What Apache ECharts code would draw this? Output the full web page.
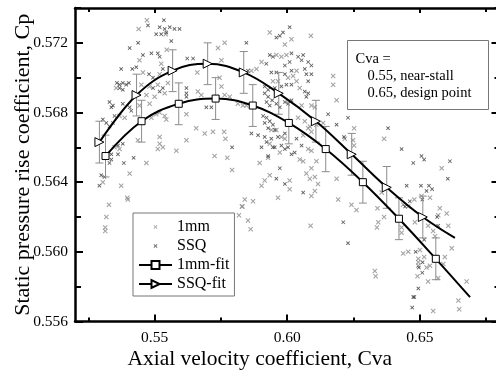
<!DOCTYPE html>
<html><head><meta charset="utf-8">
<script src="https://cdn.jsdelivr.net/npm/echarts@6/dist/echarts.min.js"></script>
<style>html,body{margin:0;padding:0;background:#fff}#c{width:496px;height:374px}</style>
</head><body><div id="c"></div>
<script>
// ---- tick values ----
const xMajor = [0.55, 0.60, 0.65];
const xMinor = [0.525, 0.575, 0.625, 0.675];
const yMajor = [0.556, 0.560, 0.564, 0.568, 0.572];
const yMinor = [0.558, 0.562, 0.566, 0.570, 0.574];

// ---- fitted curves (marker points, last point = curve end) ----
const fit1mmX = [0.5315,0.5451,0.5591,0.5730,0.5870,0.6006,0.6145,0.6285,0.6421,0.6560,0.6689];
const fit1mmY = [0.5655,0.5675,0.5685,0.5688,0.5684,0.5674,0.5659,0.5640,0.5619,0.5596,0.5574];
const err1mm  = [0.0012,0.0012,0.0012,0.0012,0.0012,0.0012,0.0013,0.0012,0.0012,0.0012];
const fitSSQX = [0.5292,0.5432,0.5568,0.5700,0.5836,0.5968,0.6108,0.6243,0.6375,0.6511,0.6632];
const fitSSQY = [0.5663,0.5690,0.5704,0.5708,0.5703,0.5691,0.5675,0.5656,0.5637,0.5620,0.5608];
const errSSQ  = [0.0012,0.0012,0.0012,0.0012,0.0012,0.0012,0.0012,0.0012,0.0012,0.0012];

// ---- raw samples ----
const mm1 = [
[0.5471,0.5733],[0.5440,0.5728],[0.5542,0.5725],[0.5546,0.5716],[0.5443,0.5710],[0.5525,0.5708],
[0.5456,0.5703],[0.5519,0.5702],[0.5355,0.5694],[0.5450,0.5696],[0.5481,0.5695],[0.5512,0.5696],
[0.5550,0.5697],[0.5469,0.5690],[0.5500,0.5689],[0.5538,0.5691],[0.5443,0.5684],[0.5481,0.5685],
[0.5368,0.5678],[0.5387,0.5677],[0.5437,0.5664],[0.5488,0.5677],[0.5506,0.5679],[0.5519,0.5680],
[0.5538,0.5678],[0.5544,0.5676],[0.5519,0.5666],[0.5519,0.5662],[0.5531,0.5660],[0.5512,0.5659],
[0.5582,0.5658],[0.5349,0.5660],[0.5368,0.5659],[0.5469,0.5651],[0.5406,0.5645],[0.5305,0.5640],
[0.5374,0.5638],[0.5399,0.5630],[0.5328,0.5627],[0.5397,0.5631],[0.5318,0.5620],[0.5314,0.5614],
[0.5314,0.5612],[0.5818,0.5621],[0.5831,0.5626],[0.5840,0.5630],[0.5852,0.5618],
[0.5934,0.5726],[0.5991,0.5719],[0.6016,0.5722],[0.5764,0.5720],[0.5739,0.5717],[0.5959,0.5713],
[0.5978,0.5712],[0.5997,0.5713],[0.5903,0.5709],[0.5865,0.5704],[0.5884,0.5705],[0.5752,0.5710],
[0.5661,0.5703],[0.5745,0.5700],[0.5752,0.5695],[0.5946,0.5698],[0.5965,0.5698],[0.6003,0.5700],
[0.6022,0.5701],[0.5663,0.5692],[0.5676,0.5690],[0.5764,0.5690],[0.5783,0.5689],[0.5814,0.5685],
[0.5833,0.5684],[0.5846,0.5684],
[0.5620,0.5679],[0.5657,0.5671],[0.5689,0.5668],[0.5720,0.5669],[0.5762,0.5669],[0.5767,0.5665],
[0.5620,0.5664],[0.5726,0.5655],[0.5774,0.5654],[0.5792,0.5647],[0.5940,0.5670],[0.5959,0.5670],
[0.5978,0.5666],[0.5991,0.5665],[0.5934,0.5662],[0.5972,0.5657],[0.5896,0.5651],[0.5928,0.5654],
[0.5934,0.5644],[0.5915,0.5641],[0.5903,0.5638],[0.6009,0.5641],[0.5965,0.5631],[0.6009,0.5636],
[0.5871,0.5629],[0.5829,0.5626],
[0.6089,0.5724],[0.6035,0.5704],[0.6035,0.5698],[0.6047,0.5694],[0.6091,0.5684],[0.6104,0.5683],
[0.6054,0.5684],[0.6173,0.5701],[0.6173,0.5696],[0.6186,0.5687],[0.6041,0.5677],[0.6066,0.5675],
[0.6085,0.5672],[0.6110,0.5673],[0.6135,0.5674],
[0.6365,0.5665],[0.6582,0.5648],[0.6479,0.5630],[0.6506,0.5632],[0.6538,0.5631],[0.6575,0.5625],
[0.6601,0.5622],[0.6569,0.5621],[0.6252,0.5671],[0.6217,0.5665],[0.6248,0.5664],[0.6252,0.5661],
[0.6060,0.5667],[0.6079,0.5671],[0.6091,0.5669],[0.6079,0.5659],[0.6091,0.5658],[0.6047,0.5653],
[0.6060,0.5652],[0.6110,0.5652],[0.6091,0.5648],[0.6072,0.5645],[0.6085,0.5642],[0.6104,0.5643],
[0.6116,0.5639],[0.6186,0.5642],[0.6091,0.5632],[0.6104,0.5635],[0.6192,0.5630],[0.6242,0.5627],
[0.6261,0.5624],[0.6356,0.5634],[0.6340,0.5625],[0.6437,0.5627],[0.6456,0.5626],[0.6365,0.5620],
[0.5862,0.5613],[0.6088,0.5615],[0.6343,0.5617],[0.6338,0.5614],[0.6330,0.5589],[0.6333,0.5586],
[0.6431,0.5614],[0.6431,0.5611],[0.6481,0.5617],[0.6531,0.5615],[0.6550,0.5612],[0.6557,0.5609],
[0.6607,0.5615],[0.6620,0.5602],[0.6437,0.5599],[0.6456,0.5600],[0.6500,0.5601],[0.6516,0.5597],
[0.6494,0.5596],[0.6494,0.5594],[0.6494,0.5592],[0.6525,0.5591],[0.6538,0.5592],[0.6491,0.5586],
[0.6531,0.5583],[0.6550,0.5566],[0.6588,0.5593],[0.6594,0.5597],[0.6569,0.5585],[0.6676,0.5583],
[0.6645,0.5572],[0.6648,0.5567]
];
const ssq = [
[0.5535,0.5733],[0.5475,0.5730],[0.5519,0.5729],[0.5538,0.5728],[0.5557,0.5729],[0.5575,0.5728],
[0.5594,0.5728],[0.5506,0.5725],[0.5525,0.5725],[0.5544,0.5726],[0.5563,0.5721],[0.5438,0.5720],
[0.5406,0.5717],[0.5488,0.5714],[0.5512,0.5714],[0.5519,0.5712],[0.5456,0.5713],[0.5374,0.5705],
[0.5416,0.5705],[0.5431,0.5706],[0.5531,0.5705],[0.5479,0.5702],[0.5494,0.5700],[0.5358,0.5697],
[0.5368,0.5696],[0.5380,0.5697],[0.5393,0.5696],[0.5403,0.5697],[0.5368,0.5694],[0.5380,0.5693],
[0.5494,0.5694],[0.5519,0.5692],[0.5531,0.5694],[0.5330,0.5686],[0.5343,0.5684],[0.5380,0.5685],
[0.5337,0.5683],[0.5349,0.5678],[0.5343,0.5674],[0.5330,0.5672],[0.5305,0.5676],[0.5318,0.5674],
[0.5406,0.5683],[0.5412,0.5681],[0.5362,0.5661],[0.5380,0.5662],[0.5337,0.5656],[0.5337,0.5653],
[0.5330,0.5651],[0.5362,0.5656],[0.5384,0.5651],[0.5421,0.5654],[0.5299,0.5644],[0.5311,0.5643],
[0.5292,0.5638],
[0.5846,0.5720],[0.5984,0.5726],[0.6009,0.5729],[0.5959,0.5723],[0.5972,0.5724],[0.5934,0.5713],
[0.5946,0.5712],[0.6016,0.5714],[0.5921,0.5708],[0.5991,0.5707],[0.6009,0.5709],[0.5623,0.5711],
[0.5645,0.5711],[0.5852,0.5704],[0.5940,0.5703],[0.5959,0.5703],[0.5991,0.5702],[0.6016,0.5704],
[0.5915,0.5695],[0.5928,0.5693],[0.5953,0.5694],[0.5978,0.5695],[0.5997,0.5696],[0.6016,0.5696],
[0.5620,0.5694],[0.5620,0.5691],[0.5620,0.5689],[0.5915,0.5691],[0.5928,0.5689],[0.5943,0.5687],
[0.5922,0.5686],[0.5934,0.5684],[0.5959,0.5685],[0.5972,0.5683],[0.5991,0.5686],[0.6003,0.5685],
[0.6016,0.5687],[0.5695,0.5683],[0.5714,0.5683],
[0.5909,0.5678],[0.5922,0.5677],[0.5915,0.5674],[0.5928,0.5671],[0.5946,0.5673],[0.5953,0.5670],
[0.5934,0.5675],[0.5865,0.5668],[0.5890,0.5667],[0.5915,0.5666],[0.5940,0.5665],[0.5965,0.5666],
[0.5991,0.5668],[0.5978,0.5661],[0.5991,0.5659],[0.5953,0.5660],[0.5922,0.5663],[0.5903,0.5660],
[0.5928,0.5655],[0.5946,0.5660],[0.6003,0.5660],[0.6016,0.5656],[0.6028,0.5657],[0.5792,0.5660],
[0.5972,0.5648],[0.5959,0.5642],[0.5991,0.5639],
[0.6041,0.5712],[0.6060,0.5713],[0.6054,0.5710],[0.6079,0.5709],[0.6091,0.5707],[0.6066,0.5705],
[0.6072,0.5702],[0.6091,0.5702],[0.6079,0.5698],[0.6066,0.5692],[0.6079,0.5691],[0.6072,0.5689],
[0.6154,0.5679],[0.6186,0.5673],[0.6229,0.5677],
[0.6380,0.5671],[0.6431,0.5659],[0.6506,0.5655],[0.6516,0.5653],[0.6475,0.5651],[0.6613,0.5652],
[0.6605,0.5642],[0.6450,0.5638],[0.6504,0.5638],[0.6525,0.5635],[0.6534,0.5638],[0.6546,0.5636],
[0.6509,0.5630],[0.6214,0.5666],[0.6035,0.5665],[0.6054,0.5661],[0.6060,0.5634],
[0.6211,0.5617],[0.6229,0.5605],[0.6444,0.5626],[0.6462,0.5629],[0.6516,0.5607],[0.6569,0.5615],
[0.6565,0.5620],[0.6484,0.5600],[0.6496,0.5591],[0.6510,0.5594],[0.6509,0.5588],[0.6494,0.5579],
[0.6475,0.5574],[0.6479,0.5574],[0.6471,0.5568]
];

const FONT = '"Liberation Serif","Times New Roman",serif';
const X_PATH = 'path://M0,1.5L1.5,0L5,3.5L8.5,0L10,1.5L6.5,5L10,8.5L8.5,10L5,6.5L1.5,10L0,8.5L3.5,5Z';
const X_ICON = 'path://M-8,-8L-8,-8M18,18L18,18M0,1.5L1.5,0L5,3.5L8.5,0L10,1.5L6.5,5L10,8.5L8.5,10L5,6.5L1.5,10L0,8.5L3.5,5Z';

function fitData(xs, ys) {
  return xs.map((x, i) => i === xs.length - 1 ? {value: [x, ys[i]], symbol: 'none'} : [x, ys[i]]);
}
function errData(xs, ys, es) {
  return es.map((e, i) => [xs[i], ys[i] - e, ys[i] + e]);
}
function renderErr(params, api) {
  const x = api.value(0);
  const t = api.coord([x, api.value(2)]);
  const b = api.coord([x, api.value(1)]);
  const w = 4;
  const st = {stroke: '#8c8c8c', lineWidth: 1};
  return {type: 'group', children: [
    {type: 'line', shape: {x1: t[0], y1: t[1], x2: b[0], y2: b[1]}, style: st},
    {type: 'line', shape: {x1: t[0] - w, y1: t[1], x2: t[0] + w, y2: t[1]}, style: st},
    {type: 'line', shape: {x1: b[0] - w, y1: b[1], x2: b[0] + w, y2: b[1]}, style: st}
  ]};
}

const xc = {type: 'value', min: 0.52, max: 0.68, gridIndex: 0, splitLine: {show: false}};
const yc = {type: 'value', min: 0.556, max: 0.574, gridIndex: 0, splitLine: {show: false}};
const lineS = {show: true, onZero: false, lineStyle: {color: '#000', width: 2.5}};
const tk = (len, vals) => ({show: true, inside: true, length: len, lineStyle: {color: '#000', width: 2}, customValues: vals});

const chart = echarts.init(document.getElementById('c'), null, {renderer: 'canvas'});
chart.setOption({
  animation: false,
  backgroundColor: '#fff',
  grid: {left: 75, top: 8, width: 424.5, height: 313.5, containLabel: false, outerBoundsMode: 'none'},
  xAxis: [
    Object.assign({}, xc, {position: 'bottom', axisLine: lineS, axisTick: tk(7, xMajor),
      axisLabel: {customValues: xMajor, formatter: v => v.toFixed(2), fontFamily: FONT, fontSize: 15.5, color: '#000', margin: 8},
      name: 'Axial velocity coefficient, Cva', nameLocation: 'middle', nameGap: 27, nameMoveOverlap: false,
      nameTextStyle: {fontFamily: FONT, fontSize: 21.5, color: '#000', padding: [0, 55, 0, 0]}}),
    Object.assign({}, xc, {position: 'bottom', axisLine: {show: false}, axisTick: tk(4, xMinor), axisLabel: {show: false}}),
    Object.assign({}, xc, {position: 'top', axisLine: lineS, axisTick: tk(5, xMajor), axisLabel: {show: false}}),
    Object.assign({}, xc, {position: 'top', axisLine: {show: false}, axisTick: tk(4, xMinor), axisLabel: {show: false}})
  ],
  yAxis: [
    Object.assign({}, yc, {position: 'left', axisLine: lineS, axisTick: tk(8, yMajor),
      axisLabel: {customValues: yMajor, formatter: v => v.toFixed(3), fontFamily: FONT, fontSize: 15.5, color: '#000', margin: 7},
      name: 'Static pressure rise coefficient, Cp', nameLocation: 'middle', nameGap: 41, nameRotate: 90, nameMoveOverlap: false,
      nameTextStyle: {fontFamily: FONT, fontSize: 22, color: '#000'}}),
    Object.assign({}, yc, {position: 'left', axisLine: {show: false}, axisTick: tk(6, yMinor), axisLabel: {show: false}}),
    Object.assign({}, yc, {position: 'right', axisLine: lineS, axisTick: tk(8, yMajor), axisLabel: {show: false}}),
    Object.assign({}, yc, {position: 'right', axisLine: {show: false}, axisTick: tk(5, yMinor), axisLabel: {show: false}})
  ],
  legend: {
    orient: 'vertical', left: 133, top: 213, itemWidth: 33, itemHeight: 10, itemGap: 3,
    padding: [6, 5, 4, 5], borderColor: '#777', borderWidth: 1, backgroundColor: '#fff', borderRadius: 0,
    selectedMode: false,
    textStyle: {fontFamily: FONT, fontSize: 16, color: '#000'},
    data: [
      {name: '1mm', icon: X_ICON, itemStyle: {color: '#8c8c8c'}},
      {name: 'SSQ', icon: X_ICON, itemStyle: {color: '#333'}},
      '1mm-fit', 'SSQ-fit'
    ]
  },
  graphic: [
    {type: 'group', left: 347, top: 40, z: 100, children: [
      {type: 'rect', shape: {x: 0, y: 0, width: 141, height: 69}, style: {fill: '#fff', stroke: '#777', lineWidth: 1}},
      {type: 'text', x: 8, y: 19, style: {text: 'Cva =', font: '14.5px ' + FONT, fill: '#000', textVerticalAlign: 'middle'}},
      {type: 'text', x: 20, y: 36, style: {text: '0.55, near-stall', font: '14.5px ' + FONT, fill: '#000', textVerticalAlign: 'middle'}},
      {type: 'text', x: 20, y: 53, style: {text: '0.65, design point', font: '14.5px ' + FONT, fill: '#000', textVerticalAlign: 'middle'}}
    ]}
  ],
  series: [
    {name: '1mm', type: 'scatter', data: mm1, symbol: X_PATH, symbolSize: 5, itemStyle: {color: '#8c8c8c'}, z: 2},
    {name: 'SSQ', type: 'scatter', data: ssq, symbol: X_PATH, symbolSize: 4, itemStyle: {color: '#333'}, z: 2},
    {name: 'err1mm', type: 'custom', renderItem: renderErr, data: errData(fit1mmX, fit1mmY, err1mm), encode: {x: 0, y: [1, 2]}, z: 3, silent: true},
    {name: 'errSSQ', type: 'custom', renderItem: renderErr, data: errData(fitSSQX, fitSSQY, errSSQ), encode: {x: 0, y: [1, 2]}, z: 3, silent: true},
    {name: '1mm-fit', type: 'line', data: fitData(fit1mmX, fit1mmY), smooth: 0.4, symbol: 'rect', symbolSize: 7,
      showAllSymbol: true, lineStyle: {color: '#000', width: 2}, itemStyle: {color: '#fff', borderColor: '#000', borderWidth: 1}, z: 5},
    {name: 'SSQ-fit', type: 'line', data: fitData(fitSSQX, fitSSQY), smooth: 0.4, symbol: 'triangle', symbolRotate: -90, symbolSize: 9,
      showAllSymbol: true, lineStyle: {color: '#000', width: 2}, itemStyle: {color: '#fff', borderColor: '#000', borderWidth: 1}, z: 5}
  ]
});
</script></body></html>
